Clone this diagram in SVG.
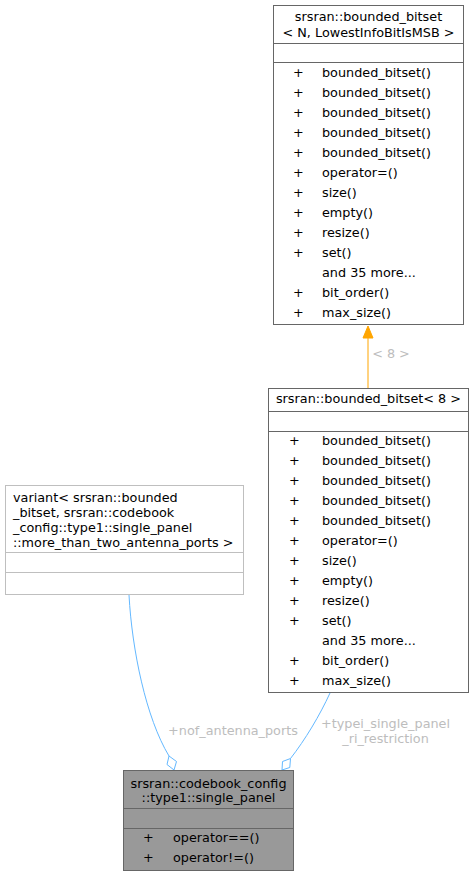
<svg xmlns="http://www.w3.org/2000/svg" width="474" height="876" viewBox="0 0 474 876">
<style>
text{font-family:"DejaVu Sans",sans-serif;font-size:12.8px;fill:#000}
.c{text-anchor:middle}
.lbl{fill:#bdbdbd}
.box{fill:#fff;stroke:#666;stroke-width:1}
.gbox{fill:#999;stroke:#666;stroke-width:1}
.vbox{fill:#fff;stroke:#bfbfbf;stroke-width:1}
.sep{stroke:#666;stroke-width:1}
.vsep{stroke:#bfbfbf;stroke-width:1}
.blue{fill:none;stroke:#63b8ff;stroke-width:1}
.dia{fill:#fff;stroke:#63b8ff;stroke-width:1}
</style>
<g id="connectors">
<path d="M368,388 L368,337" stroke="#ffa500" stroke-width="1" fill="none"/>
<polygon points="368,326 363,338 373,338" fill="#ffa500" stroke="#ffa500"/>
<text class="lbl c" x="391" y="358">&lt; 8 &gt;</text>
<path class="blue" d="M129,595 C132,650 146,718 169,756"/>
<polygon class="dia" points="174,770 176.5,761.5 169,756 167,764.5"/>
<text class="lbl c" x="233" y="734.5">+nof_antenna_ports</text>
<path class="blue" d="M330,693 C320,715 305,740 290.5,758.5"/>
<polygon class="dia" points="282,770 289.8,767.5 290.5,758.5 282.5,761.5"/>
<text class="lbl c" x="385.5" y="727.5">+typei_single_panel</text>
<text class="lbl c" x="385.5" y="742.5">_ri_restriction</text>
</g>
<g id="node_bounded_bitset_N">
<rect class="box" x="273.5" y="5.5" width="190" height="319"/>
<line class="sep" x1="273.5" y1="43.5" x2="463.5" y2="43.5"/>
<line class="sep" x1="273.5" y1="62.5" x2="463.5" y2="62.5"/>
<text class="c" x="368.5" y="21">srsran::bounded_bitset</text>
<text class="c" x="368.5" y="37">&lt; N, LowestInfoBitIsMSB &gt;</text>
<g>
<text x="293" y="76.5">+</text><text x="322" y="76.5">bounded_bitset()</text>
<text x="293" y="96.5">+</text><text x="322" y="96.5">bounded_bitset()</text>
<text x="293" y="116.5">+</text><text x="322" y="116.5">bounded_bitset()</text>
<text x="293" y="136.5">+</text><text x="322" y="136.5">bounded_bitset()</text>
<text x="293" y="156.5">+</text><text x="322" y="156.5">bounded_bitset()</text>
<text x="293" y="176.5">+</text><text x="322" y="176.5">operator=()</text>
<text x="293" y="196.5">+</text><text x="322" y="196.5">size()</text>
<text x="293" y="216.5">+</text><text x="322" y="216.5">empty()</text>
<text x="293" y="236.5">+</text><text x="322" y="236.5">resize()</text>
<text x="293" y="256.5">+</text><text x="322" y="256.5">set()</text>
<text x="322" y="276.5">and 35 more...</text>
<text x="293" y="296.5">+</text><text x="322" y="296.5">bit_order()</text>
<text x="293" y="316.5">+</text><text x="322" y="316.5">max_size()</text>
</g>
</g>
<g id="node_bounded_bitset_8">
<rect class="box" x="268.5" y="388.5" width="200" height="304"/>
<line class="sep" x1="268.5" y1="411.5" x2="468.5" y2="411.5"/>
<line class="sep" x1="268.5" y1="431.5" x2="468.5" y2="431.5"/>
<text class="c" x="368.5" y="402.5">srsran::bounded_bitset&lt; 8 &gt;</text>
<g>
<text x="289" y="444.5">+</text><text x="322" y="444.5">bounded_bitset()</text>
<text x="289" y="464.5">+</text><text x="322" y="464.5">bounded_bitset()</text>
<text x="289" y="484.5">+</text><text x="322" y="484.5">bounded_bitset()</text>
<text x="289" y="504.5">+</text><text x="322" y="504.5">bounded_bitset()</text>
<text x="289" y="524.5">+</text><text x="322" y="524.5">bounded_bitset()</text>
<text x="289" y="544.5">+</text><text x="322" y="544.5">operator=()</text>
<text x="289" y="564.5">+</text><text x="322" y="564.5">size()</text>
<text x="289" y="584.5">+</text><text x="322" y="584.5">empty()</text>
<text x="289" y="604.5">+</text><text x="322" y="604.5">resize()</text>
<text x="289" y="624.5">+</text><text x="322" y="624.5">set()</text>
<text x="322" y="644.5">and 35 more...</text>
<text x="289" y="664.5">+</text><text x="322" y="664.5">bit_order()</text>
<text x="289" y="684.5">+</text><text x="322" y="684.5">max_size()</text>
</g>
</g>
<g id="node_variant">
<rect class="vbox" x="5.5" y="485.5" width="238" height="109"/>
<line class="vsep" x1="5.5" y1="552.5" x2="243.5" y2="552.5"/>
<line class="vsep" x1="5.5" y1="572.5" x2="243.5" y2="572.5"/>
<text x="13" y="501.5">variant&lt; srsran::bounded</text>
<text x="13" y="516.5">_bitset, srsran::codebook</text>
<text x="13" y="531.5">_config::type1::single_panel</text>
<text x="13" y="546.5">::more_than_two_antenna_ports &gt;</text>
</g>
<g id="node_single_panel">
<rect class="gbox" x="123.5" y="770.5" width="170" height="100"/>
<line class="sep" x1="123.5" y1="808.5" x2="293.5" y2="808.5"/>
<line class="sep" x1="123.5" y1="828.5" x2="293.5" y2="828.5"/>
<text class="c" x="208.5" y="787.5">srsran::codebook_config</text>
<text class="c" x="208.5" y="801.5">::type1::single_panel</text>
<text x="143" y="841.5">+</text><text x="173" y="841.5">operator==()</text>
<text x="143" y="861.5">+</text><text x="173" y="861.5">operator!=()</text>
</g>
</svg>
